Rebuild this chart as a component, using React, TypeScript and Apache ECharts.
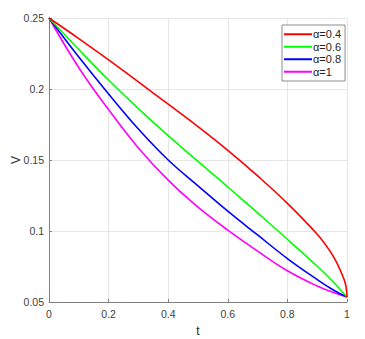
import React, { useEffect, useRef } from "react";
import * as echarts from "echarts";

const tCommon = [0, 0.1, 0.2, 0.3, 0.4, 0.5, 0.6, 0.7, 0.8, 0.9, 0.95, 1];
const tRed = [0, 0.1, 0.2, 0.3, 0.4, 0.5, 0.6, 0.7, 0.8, 0.9, 0.944, 0.966, 0.989, 0.997, 1];

const vAlpha04 = [0.25, 0.2355, 0.2205, 0.205, 0.1893, 0.1735, 0.1568, 0.1388, 0.1195, 0.0977, 0.0855, 0.0775, 0.0665, 0.0605, 0.0535];
const vAlpha06 = [0.25, 0.2278, 0.2063, 0.1862, 0.1672, 0.149, 0.131, 0.1127, 0.0942, 0.0752, 0.065, 0.0535];
const vAlpha08 = [0.25, 0.2225, 0.1965, 0.1718, 0.15, 0.1318, 0.114, 0.0972, 0.0806, 0.0658, 0.059, 0.0535];
const vAlpha1 = [0.25, 0.215, 0.1855, 0.1585, 0.1358, 0.1168, 0.1006, 0.0858, 0.072, 0.0612, 0.057, 0.0535];

const seriesNames = ["α=0.4", "α=0.6", "α=0.8", "α=1"];
const seriesColors = ["#ff0000", "#00ff00", "#0000ff", "#ff00ff"];

const xTicks = { min: 0, max: 1, interval: 0.2 };
const yTicks = { min: 0.05, max: 0.25, interval: 0.05 };

function pairs(ts: number[], vs: number[]) {
  return ts.map((t, i) => [t, vs[i]]);
}

export default function App() {
  const ref = useRef<HTMLDivElement>(null);
  useEffect(() => {
    if (!ref.current) return;
    const chart = echarts.init(ref.current, undefined, { renderer: "svg" });
    const data = [
      pairs(tRed, vAlpha04),
      pairs(tCommon, vAlpha06),
      pairs(tCommon, vAlpha08),
      pairs(tCommon, vAlpha1),
    ];
    const font = "Arial, 'Liberation Sans', Helvetica, sans-serif";
    chart.setOption({
      animation: false,
      backgroundColor: "#ffffff",
      textStyle: { fontFamily: font },
      grid: { left: 49, right: 18, top: 18, bottom: 37, containLabel: false, outerBoundsMode: "none" },
      legend: {
        orient: "vertical",
        left: 282,
        top: 25,
        padding: [3, 4, 3, 2],
        itemGap: 0,
        itemWidth: 28,
        itemHeight: 2,
        backgroundColor: "#ffffff",
        borderColor: "#8c8c8c",
        borderWidth: 1,
        borderRadius: 0,
        textStyle: { fontSize: 11, color: "#262626", padding: [0, 0, 0, -4], fontFamily: font, lineHeight: 12.5 },
        data: seriesNames.map((n, i) => ({
          name: n,
          icon: "rect",
          itemStyle: { color: seriesColors[i], borderWidth: 0 },
        })),
        itemStyle: { borderWidth: 0 },
        lineStyle: { width: 0 },
      },
      xAxis: {
        type: "value",
        min: xTicks.min,
        max: xTicks.max,
        interval: xTicks.interval,
        name: "t",
        nameLocation: "middle",
        nameGap: 23,
        nameMoveOverlap: false,
        nameTextStyle: { fontSize: 12, color: "#262626" },
        axisLine: { show: true, lineStyle: { color: "#808080", width: 1 } },
        axisTick: { show: true, inside: true, length: 3, lineStyle: { color: "#808080" } },
        axisLabel: { fontSize: 10.5, color: "#404040", margin: 6 },
        splitLine: { show: true, lineStyle: { color: "#e6e6e6", width: 1 } },
      },
      yAxis: {
        type: "value",
        min: yTicks.min,
        max: yTicks.max,
        interval: yTicks.interval,
        name: "V",
        nameLocation: "middle",
        nameGap: 27,
        nameMoveOverlap: false,
        nameRotate: 90,
        nameTextStyle: { fontSize: 12, color: "#262626" },
        axisLine: { show: true, lineStyle: { color: "#808080", width: 1 } },
        axisTick: { show: true, inside: true, length: 3, lineStyle: { color: "#808080" } },
        axisLabel: { fontSize: 10.5, color: "#404040", margin: 5 },
        splitLine: { show: true, lineStyle: { color: "#e6e6e6", width: 1 } },
      },
      series: seriesNames.map((name, i) => ({
        name,
        type: "line",
        data: data[i],
        showSymbol: false,
        symbol: "none",
        smooth: 0.4,
        lineStyle: { color: seriesColors[i], width: 1.6 },
        itemStyle: { color: seriesColors[i] },
        z: 10 - i,
      })),
    });
    return () => chart.dispose();
  }, []);
  return <div ref={ref} style={{ width: 365, height: 339, position: "absolute", left: 0, top: 0 }} />;
}
